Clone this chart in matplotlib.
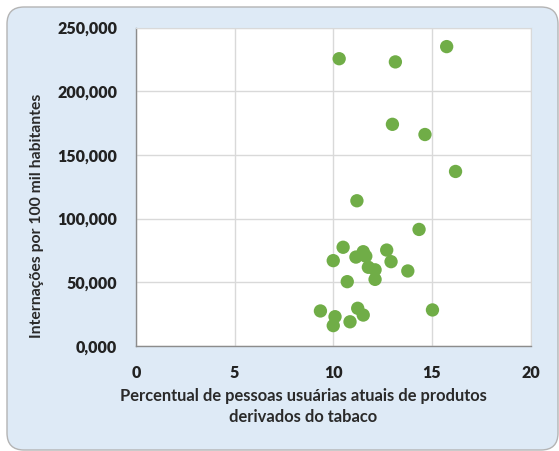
import matplotlib
matplotlib.use("Agg")
import matplotlib.pyplot as plt
from matplotlib.patches import FancyBboxPatch
from matplotlib.ticker import FuncFormatter

# Percentual de usuários de tabaco (x) vs internações por 100 mil habitantes (y)
tabaco_pct = [10.3, 13.15, 15.75, 13.0, 14.65, 16.2, 11.2, 14.35,
              10.5, 10.0, 11.15, 11.52, 11.65, 11.78, 12.12, 12.12,
              12.71, 12.93, 13.78, 10.71,
              9.35, 10.09, 10.0, 10.85, 11.24, 11.52, 15.03]
internacoes = [225500, 223000, 235000, 174000, 166000, 137000, 114000, 91500,
               77500, 67000, 69800, 74000, 70500, 61800, 59800, 52300,
               75300, 66200, 58900, 50500,
               27500, 23000, 16000, 19000, 29600, 24300, 28300]

x_ticks = [0, 5, 10, 15, 20]
y_ticks = [0, 50000, 100000, 150000, 200000, 250000]

W, H = 559, 451
fig = plt.figure(figsize=(W / 100, H / 100), dpi=100)
fig.patch.set_facecolor("white")

# rounded light-blue panel behind the chart (coordinates in inches)
panel = FancyBboxPatch((0.07, 0.01), 5.51, 4.43,
                       boxstyle="round,pad=0,rounding_size=0.17",
                       transform=fig.dpi_scale_trans, facecolor="#DEEAF6",
                       edgecolor="#B4B4B4", linewidth=1.0, zorder=0)
fig.patches.append(panel)

ax = fig.add_axes([136 / W, (H - 346) / H, (530.5 - 136) / W, (346 - 27.5) / H])
ax.set_facecolor("white")
ax.set_zorder(1)

ax.scatter(tabaco_pct, internacoes, s=92, color="#70AD47", edgecolors="none",
           zorder=3)

ax.set_xlim(0, 20)
ax.set_ylim(0, 250000)
ax.set_xticks(x_ticks)
ax.set_yticks(y_ticks)
ax.yaxis.set_major_formatter(FuncFormatter(lambda v, p: f"{int(v/1000)},000" if v else "0,000"))
ax.grid(True, color="#D9D9D9", linewidth=1.0, zorder=0)
ax.set_axisbelow(True)

for side in ["top", "right"]:
    ax.spines[side].set_color("#D9D9D9")
for side in ["left", "bottom"]:
    ax.spines[side].set_color("#8C8C8C")
    ax.spines[side].set_linewidth(1.0)

ax.tick_params(length=0, labelsize=11.5, colors="#222222")
ax.tick_params(axis="y", pad=13.5)
ax.tick_params(axis="x", pad=14)
for lbl in ax.get_xticklabels() + ax.get_yticklabels():
    lbl.set_fontfamily("Lato")
    lbl.set_fontweight("heavy")

fig.text(303 / W, 1 - 406.5 / H,
         "Percentual de pessoas usuárias atuais de produtos\nderivados do tabaco",
         ha="center", va="center", fontsize=11.9, fontfamily="Lato",
         fontweight="bold", color="#2A2A2A", linespacing=1.4)
fig.text(37 / W, 1 - 216 / H, "Internações por 100 mil habitantes",
         rotation=90, ha="center", va="center", fontsize=11.3,
         fontfamily="Lato", fontweight="bold", color="#2A2A2A")

fig.savefig("out.png", dpi=100)
